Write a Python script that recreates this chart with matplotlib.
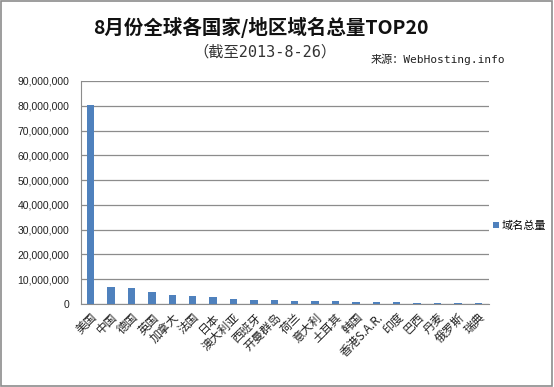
import matplotlib
matplotlib.use('Agg')
import matplotlib.pyplot as plt
from matplotlib.ticker import FuncFormatter
import numpy as np

plt.rcParams['font.family'] = ['Noto Sans CJK SC', 'DejaVu Sans']

countries = ['美国', '中国', '德国', '英国', '加拿大', '法国', '日本', '澳大利亚', '西班牙', '开曼群岛',
             '荷兰', '意大利', '土耳其', '韩国', '香港S.A.R.', '印度', '巴西', '丹麦', '俄罗斯', '瑞典']
domains = [80400000, 6900000, 6400000, 4800000, 3500000, 3400000, 2800000, 2200000, 1600000, 1550000,
           1250000, 1200000, 1150000, 1000000, 650000, 620000, 600000, 580000, 560000, 300000]
yticks = np.arange(0, 90000001, 10000000)

fig = plt.figure(figsize=(5.54, 3.87), dpi=100)
ax = fig.add_axes([80.5 / 554, 1 - 304 / 387, 408 / 554, 223 / 387])

x = np.arange(len(countries))
ax.bar(x, domains, 0.36, color='#4F81BD', label='域名总量', zorder=3)
ax.set_xlim(-0.5, len(countries) - 0.5)
ax.set_ylim(0, 90000000)
ax.set_yticks(yticks)
ax.yaxis.set_major_formatter(FuncFormatter(lambda v, p: f'{int(v):,}'))
ax.grid(axis='y', color='#8c8c8c', linewidth=0.9, zorder=0)
for s in ['top', 'right']:
    ax.spines[s].set_visible(False)
ax.spines['left'].set_color('#8c8c8c')
ax.spines['bottom'].set_color('#8c8c8c')
ax.tick_params(axis='y', length=0, pad=8, labelsize=7.5, labelcolor='#222222')
ax.tick_params(axis='x', length=0, pad=5)
ax.set_xticks(x)
ax.set_xticklabels(countries, rotation=45, ha='right', va='top', rotation_mode='anchor',
                   fontsize=8.5, color='#222222')
for lbl in ax.get_yticklabels():
    lbl.set_family(['Liberation Sans', 'DejaVu Sans'])

ax.legend(loc='center left', bbox_to_anchor=(0.995, 0.35), frameon=False, fontsize=8,
          handlelength=0.5, handleheight=0.5, handletextpad=0.3, borderaxespad=0.2)

fig.text(261 / 554, 1 - 27 / 387, '8月份全球各国家/地区域名总量TOP20', ha='center', va='center',
         fontsize=14, fontweight='bold', color='#111111')
fig.text(265 / 554, 1 - 52 / 387, '（截至2013-8-26）', ha='center', va='center',
         fontsize=11, color='#333333', family=['DejaVu Sans Mono', 'Noto Sans CJK SC'])
fig.text(438 / 554, 1 - 59 / 387, '来源：WebHosting.info', ha='center', va='center',
         fontsize=8, color='#222222', family=['DejaVu Sans Mono', 'Noto Sans CJK SC'])

border = plt.Rectangle((0.002, 0.003), 0.995, 0.994, transform=fig.transFigure, fill=False,
                       edgecolor='#8c8c8c', linewidth=1.2)
fig.patches.append(border)

fig.savefig('out.png', dpi=100)
